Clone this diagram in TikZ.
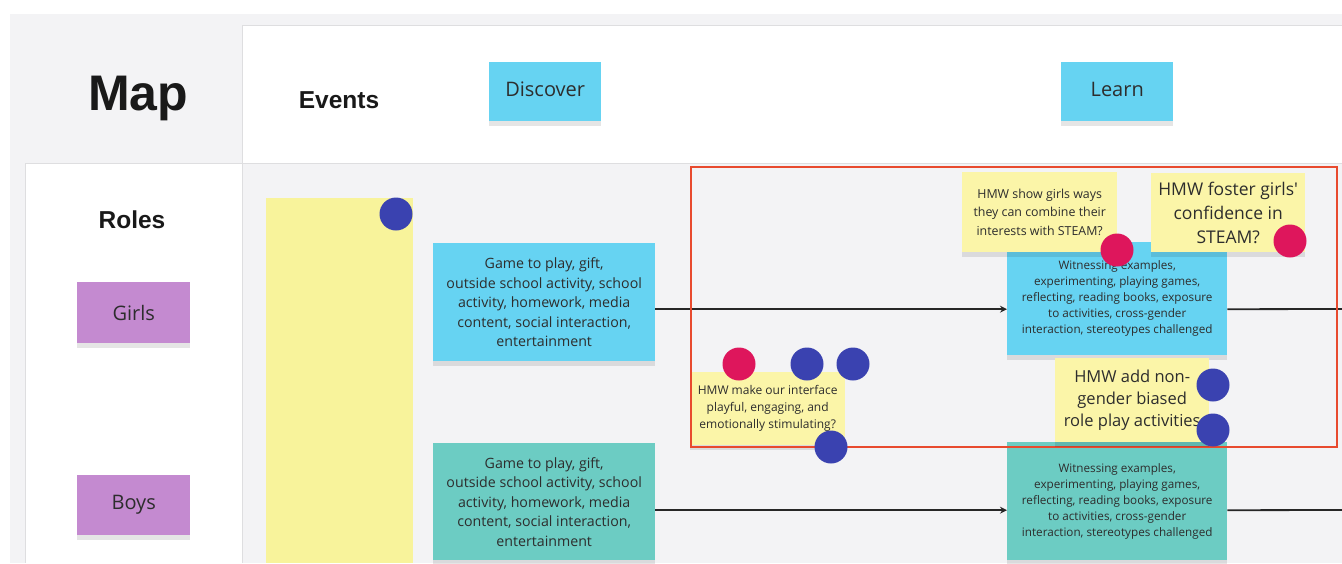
\documentclass[tikz,border=0pt]{standalone}
\usepackage{fontspec}
\setmainfont{Open Sans}[Ligatures=TeXOff]
\newfontfamily\hfont{Liberation Sans}
\usetikzlibrary{shadows,arrows.meta}
\definecolor{bggray}{RGB}{243,243,245}
\definecolor{linegray}{RGB}{222,222,224}
\definecolor{stcyan}{RGB}{102,211,242}
\definecolor{stteal}{RGB}{108,204,195}
\definecolor{stpurple}{RGB}{196,138,208}
\definecolor{styellow}{RGB}{251,245,168}
\definecolor{tallyellow}{RGB}{248,243,155}
\definecolor{dotblue}{RGB}{58,66,176}
\definecolor{dotpink}{RGB}{222,22,92}
\definecolor{framered}{RGB}{232,74,46}
\definecolor{txt}{RGB}{45,45,45}
\begin{document}
\begin{tikzpicture}[x=1pt,y=-1pt,
  sticky/.style={anchor=north west, inner sep=2pt, align=center, text=txt,
    drop shadow={shadow xshift=0pt, shadow yshift=-5pt, opacity=0.10, fill=black}},
  hdr/.style={anchor=base, text=black!90, font=\hfont\bfseries\fontsize{24.5}{28}\selectfont},
  dot/.style={circle, minimum size=33pt, inner sep=0pt},
  bluedot/.style={dot, fill=dotblue},
  pinkdot/.style={dot, fill=dotpink},
  flow/.style={draw=black!85, line width=1.8pt},
  flowarrow/.style={flow, -{Stealth[length=7pt,width=7pt]}}]
\useasboundingbox (0,0) rectangle (1342,563);
% panels
\fill[bggray] (10,14) rectangle (1342,563);
\fill[white] (242,25) rectangle (1342,163);
\fill[white] (25,163) rectangle (242,563);
\draw[linegray, line width=1pt] (242,25) -- (242,563);
\draw[linegray, line width=1pt] (25,163) -- (1342,163);
\draw[linegray, line width=1pt] (25,163) -- (25,563);
\draw[linegray, line width=0.8pt] (242,25) -- (1342,25);
% headers
\node[hdr, font=\hfont\bfseries\fontsize{50}{56}\selectfont] (map) at (138,110) {Map};
\node[hdr] (events) at (339,108) {Events};
\node[hdr] (roles) at (132,228) {Roles};
% phase stickies
\node[sticky, fill=stcyan, minimum width=112pt, minimum height=59pt, font=\fontsize{20}{24}\selectfont] (discover) at (489,62) {Discover\strut};
\node[sticky, fill=stcyan, minimum width=112pt, minimum height=59pt, font=\fontsize{20}{24}\selectfont] (learn) at (1061,62) {Learn\strut};
% roles
\node[sticky, fill=stpurple, minimum width=113pt, minimum height=61pt, font=\fontsize{20}{24}\selectfont] (girls) at (77,282) {Girls};
\node[sticky, fill=stpurple, minimum width=113pt, minimum height=60pt, font=\fontsize{20}{24}\selectfont] (boys) at (77,475) {Boys};
% tall yellow
\node[anchor=north west, fill=tallyellow, minimum width=147pt, minimum height=365pt, inner sep=0pt] (tall) at (266,198) {};
% event stickies
\node[sticky, fill=stcyan, minimum width=222pt, minimum height=118pt, font=\fontsize{14.2}{19.5}\selectfont] (gev) at (433,243)
  {Game to play, gift,\\outside school activity, school\\activity, homework, media\\content, social interaction,\\entertainment};
\node[sticky, fill=stteal, minimum width=222pt, minimum height=117pt, font=\fontsize{14.2}{19.5}\selectfont] (bev) at (433,443)
  {Game to play, gift,\\outside school activity, school\\activity, homework, media\\content, social interaction,\\entertainment};
\node[sticky, fill=stcyan, minimum width=220pt, minimum height=113pt, font=\fontsize{11.7}{16}\selectfont] (glearn) at (1007,242)
  {Witnessing examples,\\experimenting, playing games,\\reflecting, reading books, exposure\\to activities, cross-gender\\interaction, stereotypes challenged};
\node[sticky, fill=stteal, minimum width=220pt, minimum height=118pt, font=\fontsize{11.7}{16}\selectfont] (blearn) at (1007,442)
  {Witnessing examples,\\experimenting, playing games,\\reflecting, reading books, exposure\\to activities, cross-gender\\interaction, stereotypes challenged};
% connectors
\coordinate (gend) at (1342,309);
\coordinate (bend) at (1342,510);
\draw[flowarrow] ([yshift=-7pt]gev.east) -- ([yshift=-7pt]gev.east -| glearn.west);
\draw[flow] ([yshift=-7pt]gev.east -| glearn.east) -- (gend);
\draw[flowarrow] ([yshift=-8.5pt]bev.east) -- ([yshift=-8.5pt]bev.east -| blearn.west);
\draw[flow] ([yshift=-8.5pt]bev.east -| blearn.east) -- (bend);
% HMW make
\node[sticky, fill=styellow, minimum width=155pt, minimum height=73pt, font=\fontsize{12}{17}\selectfont] (hmake) at (690,372)
  {HMW make our interface\\playful, engaging, and\\emotionally stimulating?};
% red frame
\node[anchor=north west, draw=framered, line width=2pt, minimum width=646pt, minimum height=280pt, inner sep=0pt] (frame) at (690,166) {};
% other HMW stickies
\node[sticky, fill=styellow, minimum width=155pt, minimum height=80pt, font=\fontsize{12.4}{18.5}\selectfont] (hshow) at (962,172)
  {HMW show girls ways\\they can combine their\\interests with STEAM?};
\node[sticky, fill=styellow, minimum width=154pt, minimum height=79pt, font=\fontsize{17.5}{24}\selectfont] (hfoster) at (1151,173)
  {HMW foster girls'\\confidence in\\STEAM?};
\node[sticky, fill=styellow, minimum width=154pt, minimum height=84pt, font=\fontsize{16.5}{22}\selectfont] (hadd) at (1055,358)
  {HMW add non-\\gender biased\\role play activities};
% dots
\node[bluedot] (d1) at (396,214) {};
\node[pinkdot] (d2) at (739,364) {};
\node[bluedot] (d3) at (807,364) {};
\node[bluedot] (d4) at (853,364) {};
\node[bluedot] (d5) at (831,447) {};
\node[pinkdot] (d6) at (1117,250) {};
\node[pinkdot] (d7) at (1290,241) {};
\node[bluedot] (d8) at (1213,385) {};
\node[bluedot] (d9) at (1213,430) {};
\end{tikzpicture}
\end{document}
